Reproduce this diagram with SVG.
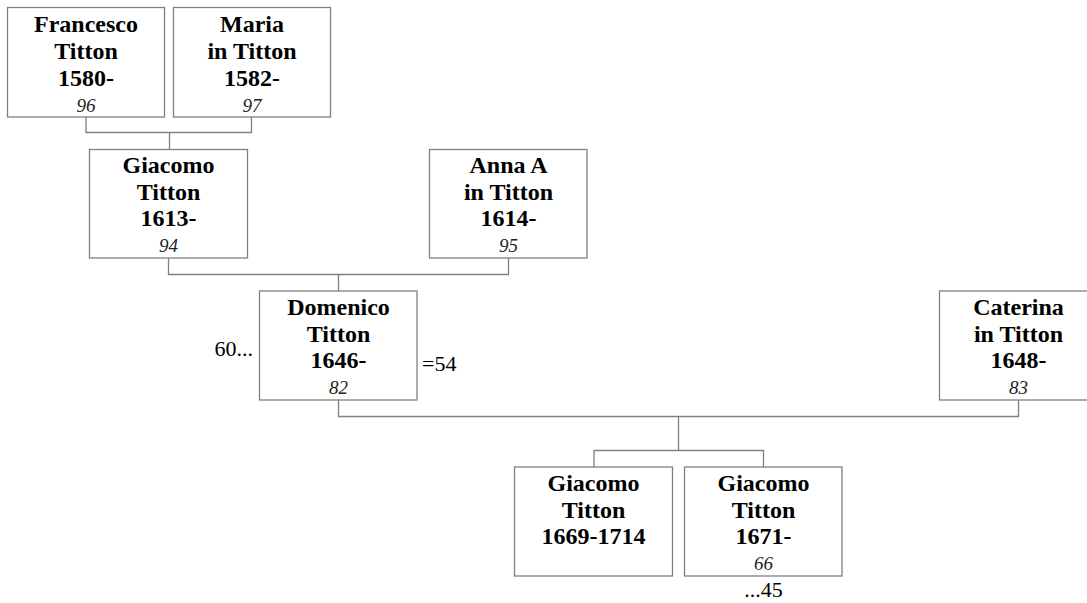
<svg xmlns="http://www.w3.org/2000/svg" width="1087" height="603" viewBox="0 0 1087 603">
<style>
.box{fill:#fff;stroke:#808080;stroke-width:1.3}
.conn{fill:none;stroke:#808080;stroke-width:1.3}
text{font-family:'Liberation Serif','Times New Roman',Tinos,serif}
.b{font-weight:bold;font-size:24px;text-anchor:middle;fill:#000}
.i{font-style:italic;font-size:19px;text-anchor:middle;fill:#222}
.r{font-size:22px;fill:#000}
</style>
<rect width="1087" height="603" fill="#fff"/>
<g id="connectors">
<path class="conn" d="M86 117 V132.5 H251.5 V117 M169.5 132.5 V149"/>
<path class="conn" d="M168.5 258 V274.5 H508.5 V258 M338.5 274.5 V291"/>
<path class="conn" d="M338.5 400 V416.5 H1018.5 V400 M678.5 416.5 V450.5"/>
<path class="conn" d="M594 467 V450.5 H763.5 V467"/>
</g>
<g id="francesco" font-family="Liberation Serif, serif">
<rect class="box" x="7.5" y="7.5" width="157" height="109.5"/>
<text class="b" x="86" y="32">Francesco</text>
<text class="b" x="86" y="59">Titton</text>
<text class="b" x="86" y="86">1580-</text>
<text class="i" x="86" y="112">96</text>
</g>
<g id="maria">
<rect class="box" x="173.5" y="7.5" width="157" height="109.5"/>
<text class="b" x="252" y="32">Maria</text>
<text class="b" x="252" y="59">in Titton</text>
<text class="b" x="252" y="86">1582-</text>
<text class="i" x="252" y="112">97</text>
</g>
<g id="giacomo1613">
<rect class="box" x="89.5" y="149.5" width="158" height="108.5"/>
<text class="b" x="168.5" y="173">Giacomo</text>
<text class="b" x="168.5" y="199.5">Titton</text>
<text class="b" x="168.5" y="226">1613-</text>
<text class="i" x="168.5" y="252">94</text>
</g>
<g id="anna">
<rect class="box" x="429.5" y="149.5" width="157.5" height="108.5"/>
<text class="b" x="508.5" y="173">Anna A</text>
<text class="b" x="508.5" y="199.5">in Titton</text>
<text class="b" x="508.5" y="226">1614-</text>
<text class="i" x="508.5" y="252">95</text>
</g>
<g id="domenico">
<rect class="box" x="259.5" y="291" width="157.5" height="109"/>
<text class="b" x="338.5" y="315">Domenico</text>
<text class="b" x="338.5" y="341.5">Titton</text>
<text class="b" x="338.5" y="368">1646-</text>
<text class="i" x="338.5" y="394">82</text>
<text class="r" x="253" y="356" text-anchor="end">60...</text>
<text class="r" x="422" y="371">=54</text>
</g>
<g id="caterina">
<rect class="box" x="939.5" y="291" width="158" height="109"/>
<text class="b" x="1018.5" y="315">Caterina</text>
<text class="b" x="1018.5" y="341.5">in Titton</text>
<text class="b" x="1018.5" y="368">1648-</text>
<text class="i" x="1018.5" y="394">83</text>
</g>
<g id="giacomo1669">
<rect class="box" x="514.5" y="467" width="158" height="109"/>
<text class="b" x="593.5" y="491">Giacomo</text>
<text class="b" x="593.5" y="517.5">Titton</text>
<text class="b" x="593.5" y="544">1669-1714</text>
</g>
<g id="giacomo1671">
<rect class="box" x="684.5" y="467" width="157.5" height="109"/>
<text class="b" x="763.5" y="491">Giacomo</text>
<text class="b" x="763.5" y="517.5">Titton</text>
<text class="b" x="763.5" y="544">1671-</text>
<text class="i" x="763.5" y="570">66</text>
<text class="r" x="763.5" y="597" text-anchor="middle">...45</text>
</g>
</svg>
